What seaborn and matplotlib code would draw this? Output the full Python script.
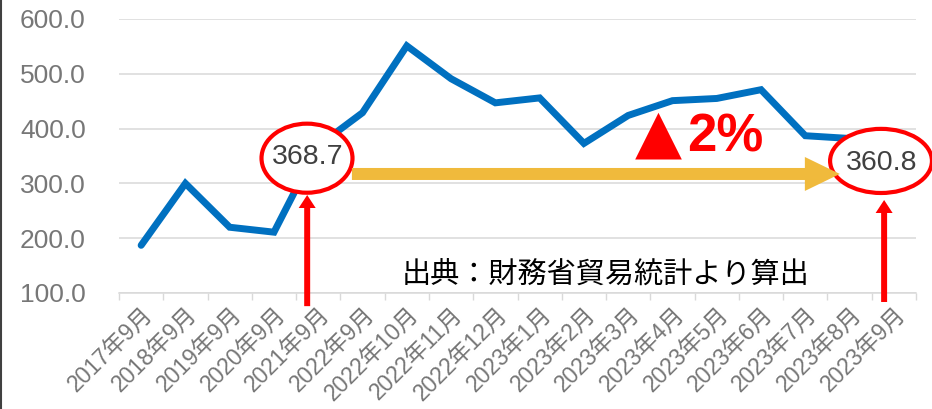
import matplotlib
matplotlib.use('Agg')
import matplotlib.pyplot as plt
import seaborn as sns
import pandas as pd
from matplotlib.patches import Ellipse, FancyArrow
from matplotlib.lines import Line2D

months = ['2017年9月', '2018年9月', '2019年9月', '2020年9月', '2021年9月',
          '2022年9月', '2022年10月', '2022年11月', '2022年12月',
          '2023年1月', '2023年2月', '2023年3月', '2023年4月', '2023年5月',
          '2023年6月', '2023年7月', '2023年8月', '2023年9月']
values = [187, 300, 220, 211, 368.7, 429, 551, 491, 447, 456, 373, 424,
          451, 455, 471, 387, 382, 360.8]
yticks = [100, 200, 300, 400, 500, 600]

df = pd.DataFrame({'month': months, 'value': values})

sns.set_theme(style='white')
plt.rcParams['font.family'] = ['Liberation Sans', 'Noto Sans CJK JP', 'DejaVu Sans']

fig = plt.figure(figsize=(9.32, 4.09), dpi=100)
ax = fig.add_axes([119 / 932, 116 / 409, 797 / 932, 274 / 409])

sns.lineplot(data=df, x='month', y='value', sort=False, ax=ax,
             color='#0070C0', lw=5, zorder=2)
ax.lines[0].set_solid_joinstyle('miter')
ax.lines[0].set_solid_capstyle('round')

ax.set_xlim(-0.5, len(months) - 0.5)
ax.set_ylim(100, 600)
ax.set_yticks(yticks)
ax.set_yticklabels([f'{v:.1f}' for v in yticks])
ax.set_xticks(range(len(months)))
ax.set_xticklabels(months, rotation=45, ha='right', va='top', rotation_mode='anchor')
ax.set_xticks([i - 0.5 for i in range(len(months) + 1)], minor=True)
ax.set_xlabel('')
ax.set_ylabel('')

ax.yaxis.grid(True, color='#d9d9d9', lw=1.1)
ax.set_axisbelow(True)
for s in ['top', 'right', 'left']:
    ax.spines[s].set_visible(False)
ax.spines['bottom'].set_color('#d9d9d9')
ax.spines['bottom'].set_linewidth(1.1)

ax.tick_params(axis='y', length=0, pad=24, labelsize=19, labelcolor='#777777')
ax.tick_params(axis='x', which='major', length=0, pad=7, labelsize=16.5, labelcolor='#767676')
ax.tick_params(axis='x', which='minor', length=5, width=1, color='#d9d9d9', bottom=True)

# annotations
red = '#FF0000'
ax.add_patch(Ellipse((3.746, 346), 2.055, 126, facecolor='white', edgecolor=red,
                     lw=3, zorder=3, clip_on=False))
ax.text(3.77, 348, '368.7', ha='center', va='center', fontsize=20.5, color='#404040', zorder=4)
ax.add_patch(Ellipse((16.71, 341), 2.30, 117, facecolor='white', edgecolor=red,
                     lw=3, zorder=3, clip_on=False))
ax.text(16.73, 337, '360.8', ha='center', va='center', fontsize=20.5, color='#404040', zorder=4)

ax.add_patch(FancyArrow(4.76, 317.2, 15.78 - 4.76, 0, width=21.9, head_width=62,
                        head_length=0.79, length_includes_head=True,
                        color='#F0BA3C', lw=0, zorder=3))
ax.add_patch(FancyArrow(3.75, 76, 0, 278.8 - 76, width=0.135, head_width=0.384,
                        head_length=23.7, length_includes_head=True,
                        color=red, lw=0, zorder=3, clip_on=False))
ax.add_patch(FancyArrow(16.78, 83.6, 0, 269.7 - 83.6, width=0.135, head_width=0.384,
                        head_length=23.7, length_includes_head=True,
                        color=red, lw=0, zorder=3, clip_on=False))

ax.text(11.15, 359, '▲', ha='left', va='baseline', fontsize=44,
        color=red, zorder=4, family=['DejaVu Sans'])
ax.text(12.33, 359, '2%', ha='left', va='baseline', fontsize=38, fontweight='bold',
        color=red, zorder=4, family=['Liberation Sans', 'DejaVu Sans'])
ax.text(10.5, 133, '出典：財務省貿易統計より算出', ha='center', va='center', fontsize=21,
        color='black', zorder=4, family=['Noto Sans CJK JP', 'DejaVu Sans'])

fig.add_artist(Line2D([1 / 932, 1 / 932], [0, 1], color='#404040', lw=1.5))

fig.savefig('out.png', dpi=100)
